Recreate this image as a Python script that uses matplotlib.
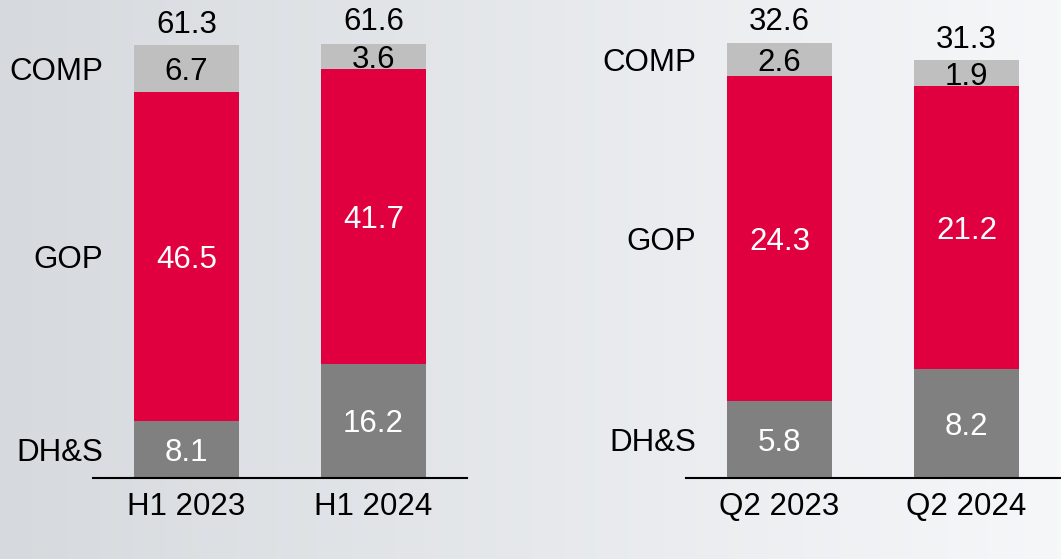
import numpy as np
import matplotlib.pyplot as plt

plt.rcParams['font.family'] = ['Liberation Sans', 'DejaVu Sans']

# Dados
periodos_h1 = ['H1 2023', 'H1 2024']
dhs_h1 = [8.1, 16.2]
gop_h1 = [46.5, 41.7]
comp_h1 = [6.7, 3.6]
total_h1 = [61.3, 61.6]

periodos_q2 = ['Q2 2023', 'Q2 2024']
dhs_q2 = [5.8, 8.2]
gop_q2 = [24.3, 21.2]
comp_q2 = [2.6, 1.9]
total_q2 = [32.6, 31.3]

segmentos = ['DH&S', 'GOP', 'COMP']
cores = ['#808080', '#E0003F', '#BFBFBF']
cor_texto = ['white', 'white', 'black']
FS = 22.5

fig = plt.figure(figsize=(10.61, 5.59), dpi=100)

# fundo em degradê
bg = fig.add_axes([0, 0, 1, 1], zorder=-1)
grad = np.linspace(0, 1, 256)
c0 = np.array([214, 218, 222]) / 255
c1 = np.array([246, 247, 249]) / 255
img = c0[None, :] + (c1 - c0)[None, :] * grad[:, None]
bg.imshow(img[None, :, :], aspect='auto', extent=[0, 1, 0, 1])
bg.axis('off')


def painel(rect, periodos, dados, totais):
    ax = fig.add_axes(rect)
    ax.patch.set_alpha(0)
    x = np.arange(len(periodos))
    base = np.zeros(len(periodos))
    for i, vals in enumerate(dados):
        ax.bar(x, vals, 0.56, bottom=base, color=cores[i], zorder=2)
        for xi, b, v in zip(x, base, vals):
            ax.text(xi, b + v / 2, f'{v:.1f}', ha='center', va='center_baseline',
                    color=cor_texto[i], fontsize=FS)
        # nome do segmento ao lado da primeira barra
        ax.text(-0.445, base[0] + vals[0] / 2, segmentos[i], ha='right',
                va='center_baseline', fontsize=FS)
        base = base + np.array(vals)
    for xi, t in zip(x, totais):
        ax.annotate(f'{t:.1f}', (xi, t), xytext=(0, 9), textcoords='offset points',
                    ha='center', va='baseline', fontsize=FS, annotation_clip=False)
    ax.set_xlim(-0.5, 1.5)
    ax.set_ylim(0, max(totais))
    ax.set_xticks(x)
    ax.set_xticklabels(periodos, fontsize=FS)
    ax.tick_params(axis='x', length=0, pad=10)
    ax.set_yticks([])
    for s in ['top', 'right', 'left']:
        ax.spines[s].set_visible(False)
    ax.spines['bottom'].set_linewidth(1.5)
    ax.spines['bottom'].set_zorder(3)
    return ax


bottom = 81 / 559
height = 435 / 559
painel([93 / 1061, bottom, 374 / 1061, height], periodos_h1,
       [dhs_h1, gop_h1, comp_h1], total_h1)
painel([686 / 1061, bottom, 374 / 1061, height], periodos_q2,
       [dhs_q2, gop_q2, comp_q2], total_q2)

plt.savefig('out.png', dpi=100)
